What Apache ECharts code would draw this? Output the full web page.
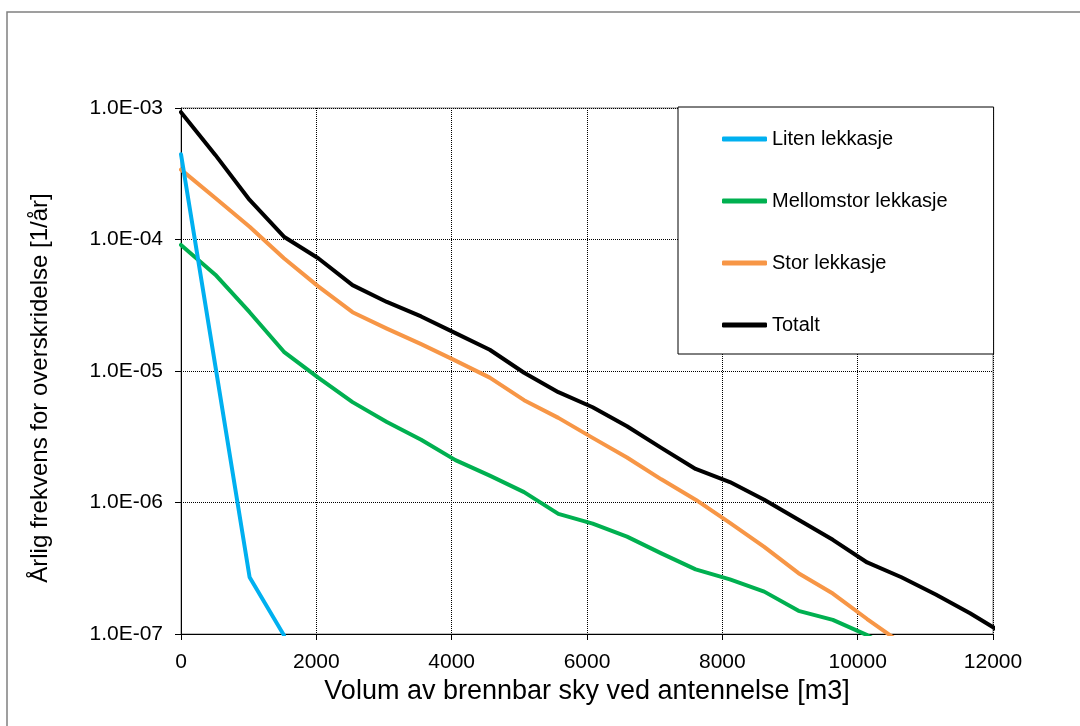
<!DOCTYPE html>
<html>
<head>
<meta charset="utf-8">
<script src="https://cdn.jsdelivr.net/npm/echarts@6/dist/echarts.min.js"></script>
<style>
  html, body { margin: 0; padding: 0; background: #fff; }
  #main { width: 1080px; height: 726px; }
</style>
</head>
<body>
<div id="main"></div>
<script>
// volum [m3] - punktene ligger ca. hver 507 m3
var xValues = [0, 507, 1014, 1521, 2028, 2535, 3042, 3549, 4056, 4563, 5070, 5577,
               6084, 6591, 7098, 7605, 8112, 8619, 9126, 9633, 10140, 10647, 11154, 11661, 12168];

var liten = [4.45e-4, 1.1e-5, 2.7e-7, 9.8e-8];
var mellomstor = [9.1e-5, 5.4e-5, 2.8e-5, 1.4e-5, 8.9e-6, 5.8e-6, 4.1e-6, 3.0e-6, 2.1e-6, 1.6e-6,
                  1.2e-6, 8.2e-7, 6.9e-7, 5.5e-7, 4.1e-7, 3.1e-7, 2.6e-7, 2.1e-7, 1.5e-7, 1.28e-7,
                  9.8e-8, 7e-8];
var stor = [3.4e-4, 2.07e-4, 1.25e-4, 7.2e-5, 4.4e-5, 2.8e-5, 2.1e-5, 1.6e-5, 1.2e-5, 8.9e-6,
            6.0e-6, 4.4e-6, 3.1e-6, 2.2e-6, 1.5e-6, 1.05e-6, 7.0e-7, 4.6e-7, 2.9e-7, 2.03e-7,
            1.3e-7, 8.5e-8];
var totalt = [9.3e-4, 4.4e-4, 2.0e-4, 1.05e-4, 7.2e-5, 4.5e-5, 3.35e-5, 2.6e-5, 1.94e-5, 1.45e-5,
              9.7e-6, 6.9e-6, 5.3e-6, 3.8e-6, 2.6e-6, 1.8e-6, 1.43e-6, 1.05e-6, 7.4e-7, 5.2e-7,
              3.5e-7, 2.7e-7, 2.0e-7, 1.44e-7, 1.0e-7];

var seriesNames = ['Liten lekkasje', 'Mellomstor lekkasje', 'Stor lekkasje', 'Totalt'];
var seriesColors = ['#00B0F0', '#00B050', '#F79646', '#000000'];
var seriesValues = [liten, mellomstor, stor, totalt];

var xTicks = [0, 2000, 4000, 6000, 8000, 10000, 12000];

var font = '"Liberation Sans", Arial, sans-serif';

function pairs(vals) {
    var out = [];
    for (var i = 0; i < vals.length; i++) {
        out.push([xValues[i], vals[i]]);
    }
    return out;
}

// 1e-5 -> "1.0E-05"
function sciLabel(v) {
    var e = Math.round(Math.log(v) / Math.LN10);
    var m = v / Math.pow(10, e);
    var a = Math.abs(e);
    return m.toFixed(1) + 'E' + (e < 0 ? '-' : '+') + (a < 10 ? '0' + a : a);
}

var series = [];
for (var s = 0; s < seriesNames.length; s++) {
    series.push({
        name: seriesNames[s],
        type: 'line',
        data: pairs(seriesValues[s]),
        showSymbol: false,
        symbol: 'none',
        clip: true,
        lineStyle: { color: seriesColors[s], width: 4, cap: 'round', join: 'round' },
        itemStyle: { color: seriesColors[s] },
        z: 10 - s
    });
}

var option = {
    backgroundColor: '#fff',
    animation: false,
    color: seriesColors,
    graphic: [{
        type: 'rect',
        shape: { x: 7, y: 12, width: 1200, height: 800 },
        style: { fill: 'none', stroke: '#808080', lineWidth: 1.5 },
        silent: true
    }],
    grid: {
        left: 181, right: 87, top: 108, bottom: 92,
        show: true,
        borderColor: '#808080',
        borderWidth: 1,
        backgroundColor: '#fff'
    },
    legend: {
        orient: 'vertical',
        left: 678,
        top: 107,
        padding: [22, 46, 19, 44],
        itemGap: 42,
        itemWidth: 45,
        itemHeight: 5,
        icon: 'roundRect',
        backgroundColor: '#fff',
        borderColor: '#000',
        borderWidth: 1,
        borderRadius: 0,
        textStyle: { fontFamily: font, fontSize: 20, color: '#000', lineHeight: 16 },
        data: seriesNames
    },
    xAxis: {
        type: 'value',
        min: 0,
        max: 12000,
        interval: 2000,
        name: 'Volum av brennbar sky ved antennelse [m3]',
        nameLocation: 'middle',
        nameGap: 44,
        nameTextStyle: { fontFamily: font, fontSize: 27, color: '#000' },
        axisLine: { show: true, onZero: false, lineStyle: { color: '#000', width: 1 } },
        axisTick: { show: true, length: 6, inside: false, lineStyle: { color: '#000' } },
        axisLabel: {
            fontFamily: font, fontSize: 21, color: '#000', margin: 18,
            formatter: function (v) { return xTicks.indexOf(v) >= 0 ? String(v) : ''; }
        },
        splitLine: { show: true, lineStyle: { type: 'dotted', color: '#000', width: 1 } }
    },
    yAxis: {
        type: 'log',
        logBase: 10,
        min: 1e-7,
        max: 1e-3,
        name: 'Årlig frekvens for overskridelse [1/år]',
        nameLocation: 'middle',
        nameGap: 129,
        nameTextStyle: { fontFamily: font, fontSize: 24, color: '#000', padding: [0, 34, 0, 0] },
        axisLine: { show: true, lineStyle: { color: '#000', width: 1 } },
        axisTick: { show: true, length: 6, inside: false, lineStyle: { color: '#000' } },
        axisLabel: {
            fontFamily: font, fontSize: 21, color: '#000', margin: 18,
            formatter: sciLabel
        },
        minorTick: { show: false },
        splitLine: { show: true, lineStyle: { type: 'dotted', color: '#000', width: 1 } }
    },
    series: series
};

var myChart = echarts.init(document.getElementById('main'));
myChart.setOption(option);
</script>
</body>
</html>
